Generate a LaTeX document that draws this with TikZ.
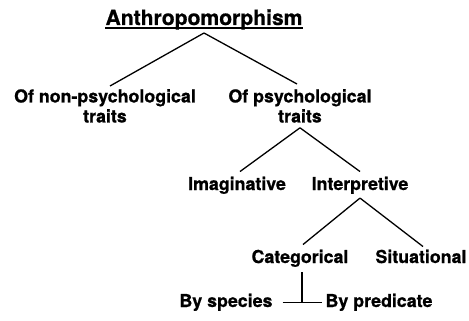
\documentclass[tikz,border=0pt]{standalone}
\usepackage{fontspec}
\setmainfont{TeX Gyre Heros}[BoldFeatures={FakeBold=0.8}]
\begin{document}
\begin{tikzpicture}[x=1pt,y=-1pt,
  lbl/.style={inner sep=0pt,font=\bfseries\fontsize{17.8}{20}\selectfont,align=center},
  conn/.style={line width=1.3pt}]
\useasboundingbox (0,0) rectangle (469,321);
\node[inner sep=0pt,font=\bfseries\fontsize{21.1}{24}\selectfont,anchor=base] (title) at (204,25) {Anthropomorphism};
\draw[line width=1.5pt] ([yshift=-3pt]title.base west) -- ([yshift=-3pt]title.base east);
\node[lbl,anchor=north] (np) at (105,89) {Of non-psychological\\traits};
\node[lbl,anchor=north] (ps) at (300,89) {Of psychological\\traits};
\node[lbl,anchor=base] (im) at (237,190) {Imaginative};
\node[lbl,anchor=base] (in) at (360,190) {Interpretive};
\node[lbl,anchor=base] (ca) at (300,263) {Categorical};
\node[lbl,anchor=base] (si) at (421,263) {Situational};
\node[lbl,anchor=base] (bs) at (226,307) {By species};
\node[lbl,anchor=base] (bp) at (379,307) {By predicate};
\draw[conn] ([yshift=-8pt]title.base) -- ([xshift=5pt,yshift=3pt]np.north);
\draw[conn] ([yshift=-8pt]title.base) -- ([xshift=-3pt,yshift=5pt]ps.north);
\draw[conn] ([yshift=-5pt]ps.south) -- ([xshift=3pt,yshift=5pt]im.north);
\draw[conn] ([yshift=-5pt]ps.south) -- ([yshift=5pt]in.north);
\draw[conn] ([yshift=-4pt]in.south) -- ([xshift=3pt,yshift=5pt]ca.north);
\draw[conn] ([yshift=-4pt]in.south) -- ([xshift=2pt,yshift=3pt]si.north);
\coordinate (j) at ([xshift=2pt]ca.south |- bs.east);
\draw[conn] ([xshift=2pt,yshift=-5pt]ca.south) -- (j);
\draw[conn] ([xshift=10pt]bs.east) -- ([xshift=-3pt]bp.west);
\end{tikzpicture}
\end{document}
